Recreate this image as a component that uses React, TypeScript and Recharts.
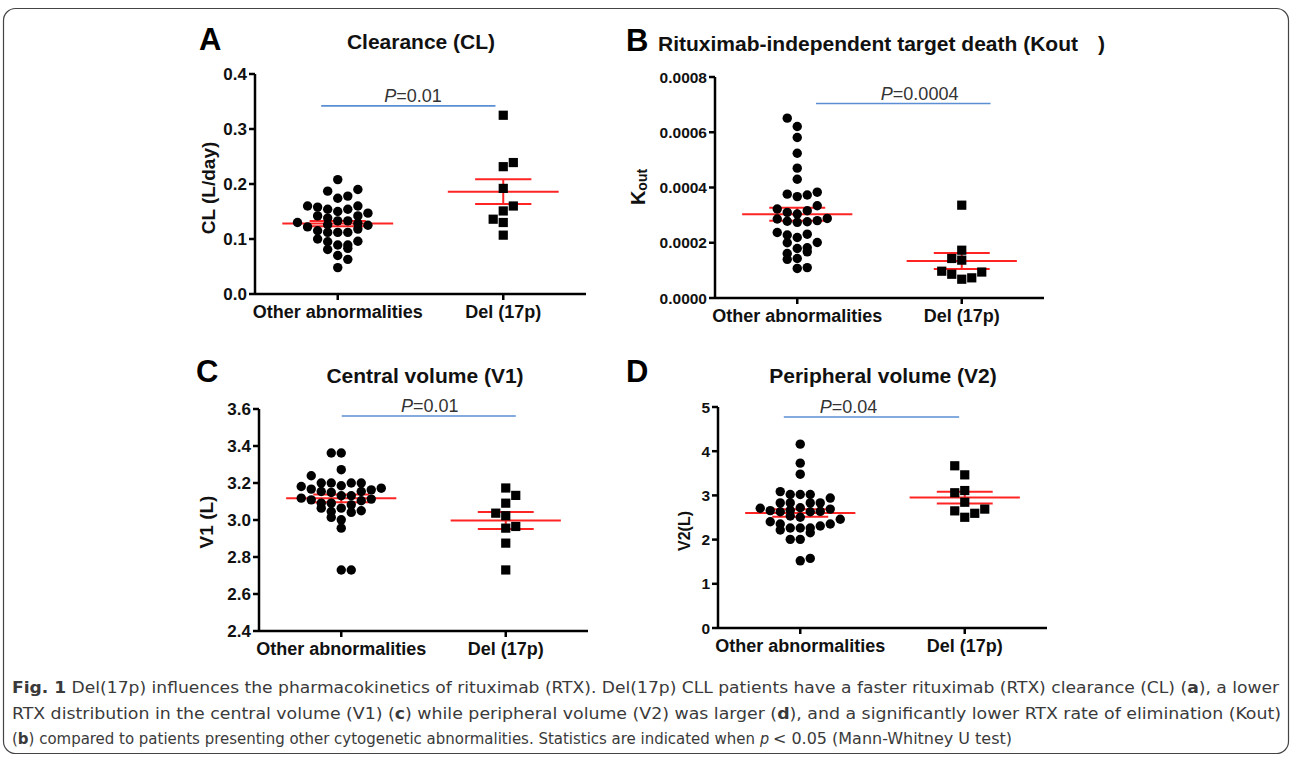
import React from 'react';
import { ScatterChart, Scatter, XAxis, YAxis, ReferenceLine, ReferenceDot } from 'recharts';

const categories = ['Other abnormalities', 'Del (17p)'];
const JITTER = 0.0608;

// Panel A: Clearance (CL)
const clOtherValues = [0.208, 0.187, 0.190, 0.174, 0.178, 0.160, 0.158, 0.154, 0.150, 0.154, 0.160, 0.142, 0.138, 0.133, 0.133, 0.142, 0.147, 0.130, 0.122, 0.126, 0.128, 0.125, 0.115, 0.112, 0.112, 0.112, 0.118, 0.100, 0.095, 0.089, 0.089, 0.096, 0.081, 0.083, 0.070, 0.063, 0.048];
const clOtherCols = [0, -1, 2, 0, 1, -3, -2, -1, 0, 1, 2, -2, -1, 0, 1, 2, 3, -4, -3, -1, 2, 3, -2, -1, 0, 1, 2, -2, -1, 0, 1, 2, -1, 1, 0, 1, 0];
const clDelValues = [0.325, 0.2315, 0.239, 0.192, 0.160, 0.151, 0.136, 0.130, 0.107];
const clDelCols = [0, 0, 1, 0, 1, 0, -1, 0, 0];
const clMeans = [0.128, 0.186];
const clSems = [0.0048, 0.0225];
const clTicks = [0, 0.1, 0.2, 0.3, 0.4];

// Panel B: Kout
const koOtherValues = [0.000651, 0.000621, 0.000581, 0.000524, 0.00047, 0.00043, 0.000376, 0.000367, 0.000373, 0.000383, 0.000322, 0.00031, 0.000304, 0.000316, 0.000334, 0.000286, 0.000278, 0.000274, 0.000276, 0.00028, 0.000288, 0.000237, 0.000228, 0.000219, 0.000231, 0.000201, 0.0002, 0.000161, 0.00014, 0.000179, 0.000143, 0.000107, 0.000182, 0.000167, 0.00011];
const koOtherCols = [-1, 0, 0, 0, 0, 0, -1, 0, 1, 2, -2, -1, 0, 1, 2, -2, -1, 0, 1, 2, 3, -2, -1, 0, 1, 2, -1, -1, -1, 0, 0, 0, 1, 1, 1];
const koDelValues = [0.000336, 0.000173, 0.000143, 0.000137, 0.000097, 0.000086, 0.000068, 0.000073, 0.000094];
const koDelCols = [0, 0, -1, 0, -2, -1, 0, 1, 2];
const koMeans = [0.000303, 0.000134];
const koSems = [0.0000235, 0.000029];
const koTicks = [0, 0.0002, 0.0004, 0.0006, 0.0008];

// Panel C: Central volume (V1)
const v1OtherValues = [3.362, 3.362, 3.272, 3.239, 3.2, 3.2, 3.2, 3.2, 3.185, 3.181, 3.172, 3.167, 3.163, 3.154, 3.149, 3.154, 3.118, 3.131, 3.131, 3.109, 3.113, 3.104, 3.091, 3.091, 3.082, 3.064, 3.046, 3.064, 3.041, 3.05, 3.014, 3.001, 2.956, 2.73, 2.73];
const v1OtherCols = [-1, 0, 0, -3, -2, -1, 1, 2, 0, -4, 4, -3, 3, -2, -1, 2, -4, 0, 1, -3, 3, 2, -2, -1, 1, -2, -1, 0, 1, 2, -1, 0, 0, 0, 1];
const v1DelValues = [3.173, 3.133, 3.091, 3.037, 3.023, 2.956, 2.965, 2.875, 2.73];
const v1DelCols = [0, 1, 0, -1, 0, 0, 1, 0, 0];
const v1Means = [3.117, 2.997];
const v1Sems = [0.021, 0.046];
const v1Ticks = [2.4, 2.6, 2.8, 3.0, 3.2, 3.4, 3.6];

// Panel D: Peripheral volume (V2)
const v2OtherValues = [4.16, 3.73, 3.48, 3.086, 3.02, 3.02, 3.02, 2.94, 2.83, 2.83, 2.83, 2.83, 2.71, 2.69, 2.655, 2.72, 2.63, 2.66, 2.63, 2.64, 2.505, 2.535, 2.46, 2.405, 2.353, 2.353, 2.308, 2.262, 2.262, 2.262, 2.217, 2.156, 2.006, 2.006, 1.52, 1.575];
const v2OtherCols = [0, 0, 0, -2, -1, 0, 1, 3, -2, -1, 1, 2, -4, 3, -3, 0, -2, -1, 1, 2, 0, -1, 4, -3, -2, 3, 2, -1, 0, 1, -2, 1, -1, 0, 0, 1];
const v2DelValues = [3.67, 3.465, 3.06, 3.11, 2.845, 2.65, 2.505, 2.595, 2.69];
const v2DelCols = [-1, 0, -1, 0, 0, -1, 0, 1, 2];
const v2Means = [2.60, 2.95];
const v2Sems = [0.085, 0.135];
const v2Ticks = [0, 1, 2, 3, 4, 5];

// Significance annotations (value of bar, x extents in category units)
const clSig = { label: '0.01', y: 0.342, x1: 0.9, x2: 1.953, textX: 1.455 };
const koSig = { label: '0.0004', y: 0.000704, x1: 1.114, x2: 2.175, textX: 1.744 };
const v1Sig = { label: '0.01', y: 3.562, x1: 1.003, x2: 2.061, textX: 1.538 };
const v2Sig = { label: '0.04', y: 4.775, x1: 0.9, x2: 1.966, textX: 1.294 };

const RED = '#ff2424';
const BLUE = '#5b8fd4';
const FONT = "'Liberation Sans', Arial, Helvetica, sans-serif";

function toPoints(values: number[], cols: number[], cat: number) {
  return values.map((v, i) => ({ x: cat + cols[i] * JITTER, y: v }));
}

const DotShape = (p: any) => <circle cx={p.cx} cy={p.cy} r={4.7} fill="#000" />;
const SquareShape = (p: any) => (
  <rect x={p.cx - 4.6} y={p.cy - 4.6} width={9.2} height={9.2} fill="#000" />
);

type PanelProps = {
  plotLeft: number;
  plotTop: number;
  plotW: number;
  plotH: number;
  yDomain: [number, number];
  yTicks: number[];
  yDigits: number;
  yFont: number;
  otherValues: number[];
  otherCols: number[];
  delValues: number[];
  delCols: number[];
  means: number[];
  sems: number[];
  sig: { label: string; y: number; x1: number; x2: number; textX: number };
};

function Panel(p: PanelProps) {
  const ML = 10, MT = 40, MR = 20, MB = 10, YW = 80, XH = 40;
  const width = p.plotW + ML + YW + MR;
  const height = p.plotH + MT + XH + MB;
  const other = toPoints(p.otherValues, p.otherCols, 1);
  const del = toPoints(p.delValues, p.delCols, 2);
  const redLines: any[] = [];
  [0, 1].forEach((i) => {
    const c = i + 1;
    const m = p.means[i];
    const s = p.sems[i];
    const segs = [
      [[c - 0.335, m], [c + 0.335, m]],
      [[c - 0.17, m + s], [c + 0.17, m + s]],
      [[c - 0.17, m - s], [c + 0.17, m - s]],
      [[c, m - s], [c, m + s]],
    ];
    segs.forEach((sg, j) => {
      redLines.push(
        <ReferenceLine
          key={`r${i}-${j}`}
          segment={[{ x: sg[0][0], y: sg[0][1] }, { x: sg[1][0], y: sg[1][1] }]}
          stroke={RED}
          strokeWidth={2}
          ifOverflow="visible"
        />
      );
    });
  });
  const sig = p.sig;
  return (
    <div style={{ position: 'absolute', left: p.plotLeft - ML - YW, top: p.plotTop - MT }}>
      <ScatterChart width={width} height={height} margin={{ top: MT, right: MR, bottom: MB, left: ML }}>
        <XAxis
          type="number"
          dataKey="x"
          domain={[0.5, 2.5]}
          ticks={[1, 2]}
          interval={0}
          tickFormatter={(v: number) => categories[Math.round(v) - 1]}
          axisLine={{ stroke: '#000', strokeWidth: 2.5 }}
          tickLine={{ stroke: '#000', strokeWidth: 2.5 }}
          tickSize={6}
          tickMargin={5}
          tick={{ fill: '#111', fontSize: 18, fontWeight: 700, fontFamily: FONT }}
          height={XH}
          allowDataOverflow
        />
        <YAxis
          type="number"
          dataKey="y"
          domain={p.yDomain}
          ticks={p.yTicks}
          interval={0}
          tickFormatter={(v: number) => v.toFixed(p.yDigits)}
          axisLine={{ stroke: '#000', strokeWidth: 2.5 }}
          tickLine={{ stroke: '#000', strokeWidth: 2.5 }}
          tickSize={6}
          tickMargin={2}
          tick={{ fill: '#111', fontSize: p.yFont, fontWeight: 700, fontFamily: FONT }}
          width={YW}
          allowDataOverflow
        />
        <Scatter data={other} shape={DotShape} isAnimationActive={false} />
        <Scatter data={del} shape={SquareShape} isAnimationActive={false} />
        {redLines}
        <ReferenceLine
          segment={[{ x: sig.x1, y: sig.y }, { x: sig.x2, y: sig.y }]}
          stroke={BLUE}
          strokeWidth={1.6}
          ifOverflow="visible"
        />
        <ReferenceDot
          x={sig.textX}
          y={sig.y}
          r={1}
          ifOverflow="visible"
          shape={(d: any) => (
            <text
              x={d.cx}
              y={d.cy - 4}
              textAnchor="middle"
              fontSize={18}
              fill="#333"
              fontFamily={FONT}
            >
              <tspan fontStyle="italic">P</tspan>={sig.label}
            </text>
          )}
        />
      </ScatterChart>
    </div>
  );
}

const captionFont = "'DejaVu Sans Condensed', 'Liberation Sans Narrow', 'DejaVu Sans', sans-serif";

export default function App() {
  return (
    <div
      style={{
        position: 'relative',
        width: 1292,
        height: 759,
        background: '#fff',
        fontFamily: FONT,
        overflow: 'hidden',
      }}
    >
      <style>{'body{margin:0;}'}</style>
      <Panel
        plotLeft={255}
        plotTop={74}
        plotW={331}
        plotH={220}
        yDomain={[0, 0.4]}
        yTicks={clTicks}
        yDigits={1}
        yFont={17}
        otherValues={clOtherValues}
        otherCols={clOtherCols}
        delValues={clDelValues}
        delCols={clDelCols}
        means={clMeans}
        sems={clSems}
        sig={clSig}
      />
      <Panel
        plotLeft={715}
        plotTop={77}
        plotW={329}
        plotH={221}
        yDomain={[0, 0.0008]}
        yTicks={koTicks}
        yDigits={4}
        yFont={15.5}
        otherValues={koOtherValues}
        otherCols={koOtherCols}
        delValues={koDelValues}
        delCols={koDelCols}
        means={koMeans}
        sems={koSems}
        sig={koSig}
      />
      <Panel
        plotLeft={259}
        plotTop={409}
        plotW={329}
        plotH={222}
        yDomain={[2.4, 3.6]}
        yTicks={v1Ticks}
        yDigits={1}
        yFont={17}
        otherValues={v1OtherValues}
        otherCols={v1OtherCols}
        delValues={v1DelValues}
        delCols={v1DelCols}
        means={v1Means}
        sems={v1Sems}
        sig={v1Sig}
      />
      <Panel
        plotLeft={718}
        plotTop={407}
        plotW={329}
        plotH={221}
        yDomain={[0, 5]}
        yTicks={v2Ticks}
        yDigits={0}
        yFont={15.5}
        otherValues={v2OtherValues}
        otherCols={v2OtherCols}
        delValues={v2DelValues}
        delCols={v2DelCols}
        means={v2Means}
        sems={v2Sems}
        sig={v2Sig}
      />
      <svg
        width={1292}
        height={759}
        style={{ position: 'absolute', left: 0, top: 0, pointerEvents: 'none' }}
        fontFamily={FONT}
      >
        <rect x={3.5} y={8.5} width={1285} height={745} rx={12} fill="none" stroke="#444" strokeWidth={1.2} />
        {/* Panel letters */}
        <text x={199} y={49.5} fontSize={31} fontWeight={700} fill="#000">A</text>
        <text x={626} y={50.7} fontSize={31} fontWeight={700} fill="#000">B</text>
        <text x={196} y={382} fontSize={31} fontWeight={700} fill="#000">C</text>
        <text x={626} y={382} fontSize={31} fontWeight={700} fill="#000">D</text>
        {/* Titles */}
        <text x={421} y={49} fontSize={21} fontWeight={700} textAnchor="middle" fill="#111">Clearance (CL)</text>
        <text x={658} y={50.5} fontSize={21} fontWeight={700} fill="#111">Rituximab-independent target death (Kout</text>
        <text x={1098} y={50.5} fontSize={21} fontWeight={700} fill="#111">)</text>
        <text x={425} y={383} fontSize={21} fontWeight={700} textAnchor="middle" fill="#111">Central volume (V1)</text>
        <text x={883} y={383} fontSize={21} fontWeight={700} textAnchor="middle" fill="#111">Peripheral volume (V2)</text>
        {/* Y axis labels */}
        <text transform="translate(215,188) rotate(-90)" fontSize={19} fontWeight={700} textAnchor="middle" fill="#111">CL (L/day)</text>
        <text transform="translate(645,187) rotate(-90)" fontSize={20} fontWeight={700} textAnchor="middle" fill="#111">
          <tspan>K</tspan>
          <tspan fontSize={14} dy={2}>out</tspan>
        </text>
        <text transform="translate(213,522) rotate(-90)" fontSize={19} fontWeight={700} textAnchor="middle" fill="#111">V1 (L)</text>
        <text transform="translate(690,531) rotate(-90)" fontSize={16} fontWeight={700} textAnchor="middle" fill="#111">V2(L)</text>
        {/* Caption */}
        <g fontFamily={captionFont} fontSize={16} fill="#3a3a3a" style={{ fontStretch: 'condensed' }}>
          <text x={12} y={693} textLength={1267} lengthAdjust="spacingAndGlyphs">
            <tspan fontWeight={700}>Fig. 1</tspan>
            {' Del(17p) influences the pharmacokinetics of rituximab (RTX). Del(17p) CLL patients have a faster rituximab (RTX) clearance (CL) ('}
            <tspan fontWeight={700}>a</tspan>
            {'), a lower'}
          </text>
          <text x={12} y={719} textLength={1269} lengthAdjust="spacingAndGlyphs">
            {'RTX distribution in the central volume (V1) ('}
            <tspan fontWeight={700}>c</tspan>
            {') while peripheral volume (V2) was larger ('}
            <tspan fontWeight={700}>d</tspan>
            {'), and a significantly lower RTX rate of elimination (Kout)'}
          </text>
          <text x={12} y={744} textLength={743} lengthAdjust="spacingAndGlyphs">
            {'('}
            <tspan fontWeight={700}>b</tspan>
            {') compared to patients presenting other cytogenetic abnormalities. Statistics are indicated when'}
          </text>
          <text x={760} y={744} fontStyle="italic">p</text>
          <text x={773} y={744} textLength={239} lengthAdjust="spacingAndGlyphs">
            {'< 0.05 (Mann-Whitney U test)'}
          </text>
        </g>
      </svg>
    </div>
  );
}
